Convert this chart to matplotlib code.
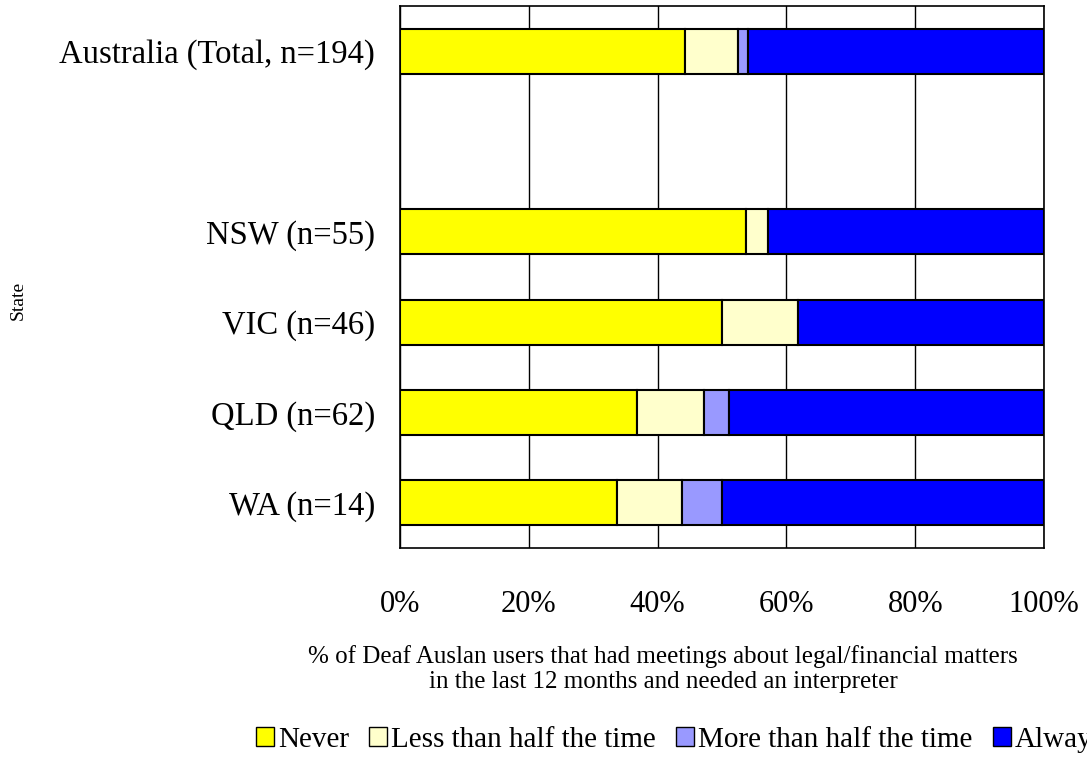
import matplotlib
matplotlib.use("Agg")
from matplotlib import pyplot as plt
from matplotlib.patches import Patch
import numpy as np

plt.rcParams['font.family'] = ['Liberation Serif', 'DejaVu Serif']

# Datos (porcentajes)
estados = ['WA (n=14)', 'QLD (n=62)', 'VIC (n=46)', 'NSW (n=55)', '', 'Australia (Total, n=194)']
nunca = [33.7, 36.8, 50.0, 53.7, 0, 44.3]
menos_mitad = [10.1, 10.4, 11.8, 3.5, 0, 8.2]
mas_mitad = [6.2, 3.9, 0.0, 0.0, 0, 1.6]
siempre = [50.0, 48.9, 38.2, 42.8, 0, 45.9]

series = ['Never', 'Less than half the time', 'More than half the time', 'Always']
colores = ['#FFFF00', '#FFFFCC', '#9999FF', '#0000FF']
valores = [nunca, menos_mitad, mas_mitad, siempre]

fig = plt.figure(figsize=(10.87, 7.58), dpi=100)
ax = fig.add_axes([400 / 1087, 1 - 548 / 758, 644 / 1087, 542 / 758])

y = np.arange(len(estados))
izq = np.zeros(len(estados))
for nombre, col, vals in zip(series, colores, valores):
    vals = np.array(vals)
    mask = vals > 0
    ax.barh(y[mask], vals[mask], left=izq[mask], height=0.5, color=col,
            edgecolor='black', linewidth=1.5, zorder=3)
    izq += vals

ax.set_xlim(0, 100)
ax.set_ylim(-0.5, len(estados) - 0.5)
ax.set_xticks([0, 20, 40, 60, 80, 100])
ax.set_xticklabels(['0%', '20%', '40%', '60%', '80%', '100%'], fontsize=22)
ax.set_yticks(y)
ax.set_yticklabels(estados, fontsize=23.5)
ax.tick_params(axis='x', length=0, pad=30)
ax.tick_params(axis='y', length=0, pad=18)
ax.xaxis.grid(True, color='black', linewidth=1)
ax.set_axisbelow(True)
for s in ax.spines.values():
    s.set_linewidth(1.2)

fig.text(18 / 1087, 1 - 300 / 758, 'State', rotation=90, fontsize=14,
         ha='center', va='center')
fig.text(663 / 1087, 1 - 669 / 758,
         '% of Deaf Auslan users that had meetings about legal/financial matters\n'
         'in the last 12 months and needed an interpreter',
         fontsize=18, ha='center', va='center', linespacing=1.12)

handles = [Patch(facecolor=c, edgecolor='black', label=n) for n, c in zip(series, colores)]
fig.legend(handles=handles, loc='center left', bbox_to_anchor=(256 / 1087, 1 - 740 / 758),
           ncol=4, frameon=False, fontsize=21, handlelength=0.6, handleheight=0.6,
           handletextpad=0.15, columnspacing=0.7, borderaxespad=0, borderpad=0)

fig.savefig('out.png', dpi=100)
